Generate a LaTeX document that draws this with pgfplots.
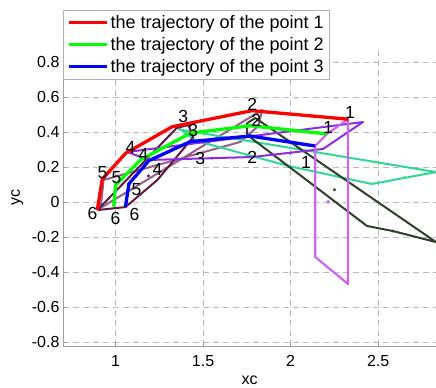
\documentclass[border=0pt]{standalone}
\usepackage{fontspec}
\setmainfont{Liberation Sans}
\usepackage{pgfplots}
\pgfplotsset{compat=1.18}
\definecolor{lilac}{RGB}{204,102,238}
\definecolor{vio}{RGB}{140,45,225}
\definecolor{teal2}{RGB}{50,215,150}
\definecolor{dkgreen}{RGB}{45,65,40}
\definecolor{maroon2}{RGB}{95,25,70}
\definecolor{mauve}{RGB}{150,95,140}
\begin{document}
\begin{tikzpicture}
\begin{axis}[
  scale only axis, width=373pt, height=298pt,
  xmin=0.70, xmax=2.83, ymin=-0.823, ymax=0.88,
  axis x line*=bottom, axis y line*=left,
  axis line style={gray!75, line width=0.8pt},
  xtick={1,1.5,2,2.5}, xticklabels={1,1.5,2,2.5},
  ytick={-0.8,-0.6,-0.4,-0.2,0,0.2,0.4,0.6,0.8},
  yticklabels={-0.8,-0.6,-0.4,-0.2,0,0.2,0.4,0.6,0.8},
  tick align=inside, major tick length=4pt, tick style={gray!75, line width=0.6pt},
  grid=major, grid style={gray!55, dash pattern=on 6pt off 4pt, line width=0.6pt},
  ticklabel style={font=\fontsize{16}{16}\selectfont},
  xticklabel style={yshift=-6pt},
  xlabel={xc}, ylabel={yc},
  label style={font=\fontsize{16}{16}\selectfont},
  xlabel style={at={(axis description cs:0.5,-0.114)}, anchor=center},
  ylabel style={at={(axis description cs:-0.123,0.5)}, anchor=center},
  legend style={at={(0,1.127)}, anchor=north west, draw=gray!60, line width=0.6pt,
    font=\fontsize{18}{18}\selectfont, row sep=3.5pt, inner xsep=4pt, inner ysep=3pt},
  legend cell align=left,
  legend image code/.code={\draw[#1, line width=3.3pt] (0pt,0pt) -- (38pt,0pt);},
  every axis plot/.append style={line join=round},
]
% mechanism links
\addplot[mauve, line width=2pt, forget plot] coordinates {
  (0.915,-0.034) (1.838,0.526) (1.815,0.434) (1.712,0.343) (0.932,0.126) (0.915,-0.034)};
\addplot[teal2, line width=2pt, forget plot] coordinates {
  (1.359,0.423) (1.462,0.349) (1.990,0.205) (2.464,0.103) (2.83,0.171) (1.359,0.415)};
\addplot[dkgreen, line width=2pt, forget plot] coordinates {
  (1.752,0.383) (1.752,0.451) (1.798,0.480) (2.83,-0.229) (2.584,-0.166) (2.436,-0.137) (1.752,0.383)};
\addplot[maroon2, line width=2pt, forget plot] coordinates {
  (0.897,-0.046) (1.349,0.423) (1.416,0.44) (1.444,0.371) (1.239,0.126) (1.057,-0.029) (0.897,-0.046)};
\addplot[vio, line width=2pt, forget plot] coordinates {
  (1.068,0.286) (1.188,0.240) (1.781,0.257) (2.185,0.303) (2.413,0.457) (1.068,0.286)};
\addplot[lilac, line width=2.2pt, forget plot] coordinates {
  (2.140,0.320) (2.208,0.389) (2.328,0.474) (2.328,-0.469) (2.140,-0.314) (2.140,0.320)};
\addplot[only marks, mark=*, mark size=1.6pt, lilac, forget plot] coordinates {(2.214,0.0)};
\addplot[only marks, mark=*, mark size=1.3pt, maroon2, forget plot] coordinates {(1.188,0.149)};
\addplot[only marks, mark=*, mark size=1.3pt, vio, forget plot] coordinates {(1.55,0.25) (2.00,0.28)};
\addplot[only marks, mark=*, mark size=1.3pt, teal2, forget plot] coordinates {(1.75,0.27) (2.65,0.14)};
\addplot[only marks, mark=*, mark size=1.3pt, dkgreen, forget plot] coordinates {(2.25,0.07) (2.584,-0.166)};
% trajectories
\addplot[red, line width=3.3pt] coordinates {
  (0.896,-0.046) (0.924,0.130) (1.057,0.278) (1.323,0.430) (1.779,0.522) (2.329,0.473)};
\addlegendentry{the trajectory of the point 1}
\addplot[green, line width=3.3pt] coordinates {
  (0.990,-0.027) (1.000,0.097) (1.142,0.240) (1.427,0.393) (1.769,0.436) (2.206,0.389)};
\addlegendentry{the trajectory of the point 2}
\addplot[blue, line width=3.3pt] coordinates {
  (1.057,-0.027) (1.076,0.103) (1.190,0.236) (1.427,0.345) (1.769,0.377) (2.140,0.320)};
\addlegendentry{the trajectory of the point 3}
% position numbers
\begin{scope}[every node/.style={font=\fontsize{17.5}{17.5}\selectfont, inner sep=0pt}]
\node at (axis cs:2.339,0.509) {1};
\node at (axis cs:1.781,0.560) {2};
\node at (axis cs:1.387,0.491) {3};
\node at (axis cs:1.085,0.314) {4};
\node at (axis cs:0.926,0.171) {5};
\node at (axis cs:0.869,-0.063) {6};
\node at (axis cs:2.214,0.423) {1};
\node at (axis cs:1.803,0.466) {2};
\node at (axis cs:1.444,0.411) {3};
\node at (axis cs:1.160,0.269) {4};
\node at (axis cs:1.006,0.137) {5};
\node at (axis cs:1.000,-0.097) {6};
\node at (axis cs:2.088,0.223) {1};
\node at (axis cs:1.781,0.257) {2};
\node at (axis cs:1.484,0.246) {3};
\node at (axis cs:1.239,0.183) {4};
\node at (axis cs:1.120,0.069) {5};
\node at (axis cs:1.108,-0.069) {6};
\end{scope}
\end{axis}
\pgfresetboundingbox
\path ([shift={(-63pt,-41pt)}]current axis.south west) rectangle ([shift={(0pt,48pt)}]current axis.north east);
\end{tikzpicture}
\end{document}
